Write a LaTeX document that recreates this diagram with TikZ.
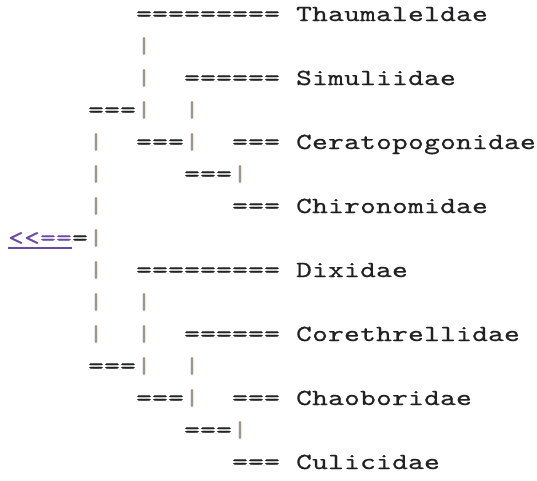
\documentclass[tikz,border=0pt]{standalone}
\usepackage{fontspec}
\newfontfamily\cgmono{lmmono10-regular.otf}[FakeBold=0.6,FakeStretch=1.3]
\definecolor{pipe}{RGB}{160,150,135}
\definecolor{visited}{RGB}{107,75,161}
\definecolor{ink}{RGB}{32,33,34}
\newcommand\cgfont{\cgmono\fontsize{23}{23}\selectfont}
\def\monoloop#1{\ifx#1\relax\else\makebox[16pt][c]{#1}\expandafter\monoloop\fi}
\newcommand\mono[1]{\monoloop#1\relax}
\def\xo{8}
\def\yo{21}
\tikzset{
  frag/.style={anchor=base west, inner sep=0pt, outer sep=0pt, font=\cgfont, text=ink},
  bar/.style={frag, text=pipe},
  branch/.style={frag},
  taxon/.style={frag},
  lnk/.style={frag, text=visited}
}
\begin{document}
\begin{tikzpicture}[x=1pt, y=-1pt]
\useasboundingbox (0,0) rectangle (537,480);
% line 1
\node[branch] (e1) at ({\xo+16*8},{\yo+32*0}) {\mono{=========}};
\node[taxon] (t1) at ({\xo+16*18},{\yo+32*0}) {\mono{Thaumaleldae}};
% line 2
\node[bar] (b2a) at ({\xo+16*8},{\yo+32*1}) {\mono{|}};
% line 3
\node[bar] (b3a) at ({\xo+16*8},{\yo+32*2}) {\mono{|}};
\node[branch] (e3) at ({\xo+16*11},{\yo+32*2}) {\mono{======}};
\node[taxon] (t2) at ({\xo+16*18},{\yo+32*2}) {\mono{Simuliidae}};
% line 4
\node[branch] (e4) at ({\xo+16*5},{\yo+32*3}) {\mono{===}};
\node[bar] (b4a) at ({\xo+16*8},{\yo+32*3}) {\mono{|}};
\node[bar] (b4b) at ({\xo+16*11},{\yo+32*3}) {\mono{|}};
% line 5
\node[bar] (b5a) at ({\xo+16*5},{\yo+32*4}) {\mono{|}};
\node[branch] (e5a) at ({\xo+16*8},{\yo+32*4}) {\mono{===}};
\node[bar] (b5b) at ({\xo+16*11},{\yo+32*4}) {\mono{|}};
\node[branch] (e5b) at ({\xo+16*14},{\yo+32*4}) {\mono{===}};
\node[taxon] (t3) at ({\xo+16*18},{\yo+32*4}) {\mono{Ceratopogonidae}};
% line 6
\node[bar] (b6a) at ({\xo+16*5},{\yo+32*5}) {\mono{|}};
\node[branch] (e6) at ({\xo+16*11},{\yo+32*5}) {\mono{===}};
\node[bar] (b6b) at ({\xo+16*14},{\yo+32*5}) {\mono{|}};
% line 7
\node[bar] (b7a) at ({\xo+16*5},{\yo+32*6}) {\mono{|}};
\node[branch] (e7) at ({\xo+16*14},{\yo+32*6}) {\mono{===}};
\node[taxon] (t4) at ({\xo+16*18},{\yo+32*6}) {\mono{Chironomidae}};
% line 8
\node[lnk] (root) at ({\xo+16*0},{\yo+32*7}) {\mono{<<==}};
\node[branch] (e8) at ({\xo+16*4},{\yo+32*7}) {\mono{=}};
\node[bar] (b8a) at ({\xo+16*5},{\yo+32*7}) {\mono{|}};
\draw[visited, line width=1.3pt] ([yshift=-3pt]root.base west) -- ([yshift=-3pt]root.base east);
% line 9
\node[bar] (b9a) at ({\xo+16*5},{\yo+32*8}) {\mono{|}};
\node[branch] (e9) at ({\xo+16*8},{\yo+32*8}) {\mono{=========}};
\node[taxon] (t5) at ({\xo+16*18},{\yo+32*8}) {\mono{Dixidae}};
% line 10
\node[bar] (b10a) at ({\xo+16*5},{\yo+32*9}) {\mono{|}};
\node[bar] (b10b) at ({\xo+16*8},{\yo+32*9}) {\mono{|}};
% line 11
\node[bar] (b11a) at ({\xo+16*5},{\yo+32*10}) {\mono{|}};
\node[bar] (b11b) at ({\xo+16*8},{\yo+32*10}) {\mono{|}};
\node[branch] (e11) at ({\xo+16*11},{\yo+32*10}) {\mono{======}};
\node[taxon] (t6) at ({\xo+16*18},{\yo+32*10}) {\mono{Corethrellidae}};
% line 12
\node[branch] (e12) at ({\xo+16*5},{\yo+32*11}) {\mono{===}};
\node[bar] (b12a) at ({\xo+16*8},{\yo+32*11}) {\mono{|}};
\node[bar] (b12b) at ({\xo+16*11},{\yo+32*11}) {\mono{|}};
% line 13
\node[branch] (e13a) at ({\xo+16*8},{\yo+32*12}) {\mono{===}};
\node[bar] (b13a) at ({\xo+16*11},{\yo+32*12}) {\mono{|}};
\node[branch] (e13b) at ({\xo+16*14},{\yo+32*12}) {\mono{===}};
\node[taxon] (t7) at ({\xo+16*18},{\yo+32*12}) {\mono{Chaoboridae}};
% line 14
\node[branch] (e14) at ({\xo+16*11},{\yo+32*13}) {\mono{===}};
\node[bar] (b14a) at ({\xo+16*14},{\yo+32*13}) {\mono{|}};
% line 15
\node[branch] (e15) at ({\xo+16*14},{\yo+32*14}) {\mono{===}};
\node[taxon] (t8) at ({\xo+16*18},{\yo+32*14}) {\mono{Culicidae}};
\end{tikzpicture}
\end{document}
